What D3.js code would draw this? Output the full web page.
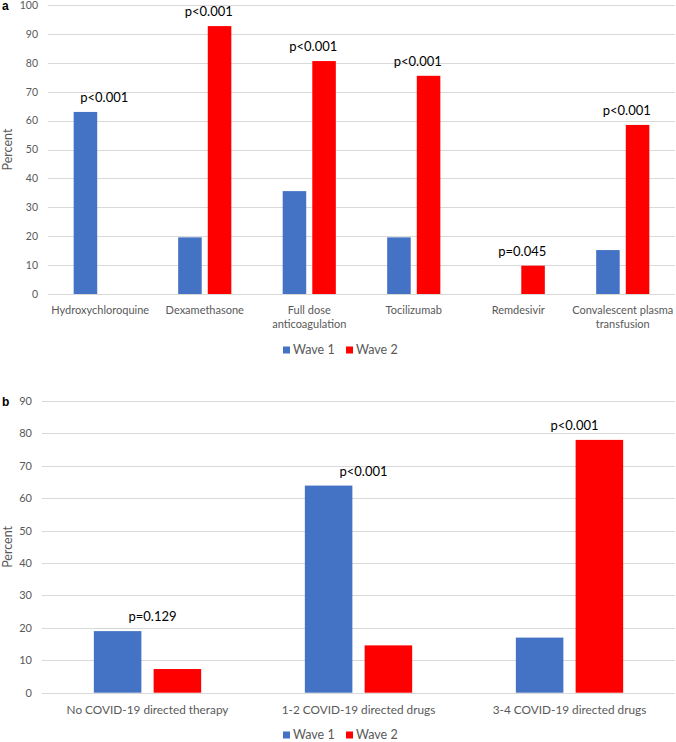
<!DOCTYPE html>
<html>
<head>
<meta charset="utf-8">
<script src="https://cdn.jsdelivr.net/npm/d3@7"></script>
<style>
  html, body { margin: 0; padding: 0; background: #fff; }
  svg { display: block; font-family: Lato, "Liberation Sans", sans-serif; }
</style>
</head>
<body>
<svg id="chart" width="676" height="742"></svg>
<script>
// ---------- DATA ----------
const seriesNames = ["Wave 1", "Wave 2"];
const seriesColors = ["#4472C4", "#FF0000"];

const categoriesA = ["Hydroxychloroquine", "Dexamethasone", "Full dose\nanticoagulation", "Tocilizumab", "Remdesivir", "Convalescent plasma\ntransfusion"];
const wave1A = [63.0, 19.6, 35.6, 19.6, 0, 15.2];
const wave2A = [0, 92.7, 80.6, 75.5, 9.8, 58.5];
const pValuesA = ["p<0.001", "p<0.001", "p<0.001", "p<0.001", "p=0.045", "p<0.001"];
const ticksA = [0, 10, 20, 30, 40, 50, 60, 70, 80, 90, 100];

const categoriesB = ["No COVID-19 directed therapy", "1-2 COVID-19 directed drugs", "3-4 COVID-19 directed drugs"];
const wave1B = [19.0, 63.9, 17.0];
const wave2B = [7.3, 14.6, 78.0];
const pValuesB = ["p=0.129", "p<0.001", "p<0.001"];
const ticksB = [0, 10, 20, 30, 40, 50, 60, 70, 80, 90];

// ---------- DRAW ----------
const svg = d3.select("#chart");

function drawPanel(opt) {
  const g = svg.append("g");
  const x0 = d3.scaleBand().domain(opt.categories.map((c, i) => i)).range([opt.left, opt.right]).padding(0);
  const x1 = d3.scaleBand().domain(seriesNames).range([0, x0.bandwidth()]).paddingInner(0.205).paddingOuter(0.867);
  const y = d3.scaleLinear().domain([0, d3.max(opt.ticks)]).range([opt.bottom, opt.top]);

  // grid + y tick labels
  const yAxis = d3.axisLeft(y).tickValues(opt.ticks).tickSizeInner(-(opt.right - opt.left)).tickSizeOuter(0).tickPadding(10);
  const ya = g.append("g").attr("transform", `translate(${opt.left},0)`).call(yAxis);
  ya.select(".domain").remove();
  ya.selectAll(".tick line").attr("stroke", "#d9d9d9").attr("stroke-width", 1).attr("shape-rendering", "crispEdges");
  ya.selectAll(".tick text").attr("fill", "#595959").style("font-size", opt.tickFont + "px").style("font-family", "Lato, sans-serif");

  // bars
  const rows = opt.categories.map((c, i) => ({ i, vals: [opt.w1[i], opt.w2[i]] }));
  const grp = g.selectAll("g.cat").data(rows).join("g").attr("class", "cat")
    .attr("transform", d => `translate(${x0(d.i)},0)`);
  grp.selectAll("rect").data(d => d.vals.map((v, k) => ({ v, k })).filter(e => e.v > 0)).join("rect")
    .attr("x", e => x1(seriesNames[e.k]))
    .attr("width", x1.bandwidth())
    .attr("y", e => y(e.v))
    .attr("height", e => y(0) - y(e.v))
    .attr("fill", e => seriesColors[e.k]);

  // p-value labels
  g.selectAll("text.p").data(rows).join("text").attr("class", "p")
    .attr("x", d => x0(d.i) + x0.bandwidth() / 2 + opt.pShift)
    .attr("y", d => y(d3.max(d.vals)) - 10)
    .attr("text-anchor", "middle")
    .attr("fill", "#000")
    .style("font-size", "13px")
    .text(d => opt.pValues[d.i]);

  // category labels
  const xAxis = d3.axisBottom(x0).tickSize(0).tickPadding(0).tickFormat("");
  const xa = g.append("g").attr("transform", `translate(0,${opt.bottom})`).call(xAxis);
  xa.select(".domain").remove();
  xa.selectAll(".tick").each(function (d) {
    const lines = opt.categories[d].split("\n");
    const t = d3.select(this).append("text")
      .attr("text-anchor", "middle")
      .attr("fill", "#595959")
      .style("font-size", opt.catFont + "px")
      .style("font-family", "Lato, sans-serif");
    lines.forEach((ln, j) => {
      t.append("tspan").attr("x", 0).attr("y", opt.catDy + j * opt.catLine).text(ln);
    });
  });

  // y title
  g.append("text")
    .attr("transform", `translate(${opt.titleX},${(opt.top + opt.bottom) / 2}) rotate(-90)`)
    .attr("text-anchor", "middle")
    .attr("fill", "#595959")
    .style("font-size", "12.5px")
    .text("Percent");

  // panel letter
  g.append("text").attr("x", 2).attr("y", opt.letterY)
    .attr("font-weight", "bold").style("font-size", "12px").attr("fill", "#000")
    .style("font-family", "'Liberation Sans', Arial, sans-serif")
    .text(opt.letter);

  // legend
  const lg = g.append("g").attr("transform", `translate(283,${opt.legendY})`);
  const items = lg.selectAll("g").data(seriesNames).join("g")
    .attr("transform", (d, k) => `translate(${k * 63},0)`);
  items.append("rect").attr("x", 0).attr("y", -3.5).attr("width", 7).attr("height", 7)
    .attr("fill", (d, k) => seriesColors[k]);
  items.append("text").attr("x", 10).attr("y", 0).attr("dy", "0.35em")
    .attr("fill", "#595959").style("font-size", "12.5px").text(d => d);
}

drawPanel({
  categories: categoriesA, w1: wave1A, w2: wave2A, pValues: pValuesA, ticks: ticksA,
  left: 48, right: 675, top: 5, bottom: 294,
  tickFont: 10.5, catFont: 11, catDy: 20, catLine: 14, pShift: 4,
  titleX: 12, letter: "a", letterY: 10, legendY: 350
});

drawPanel({
  categories: categoriesB, w1: wave1B, w2: wave2B, pValues: pValuesB, ticks: ticksB,
  left: 42, right: 675, top: 401, bottom: 692.7,
  tickFont: 11, catFont: 11.8, catDy: 21, catLine: 14, pShift: 5,
  titleX: 12, letter: "b", letterY: 406, legendY: 735
});
</script>
</body>
</html>
